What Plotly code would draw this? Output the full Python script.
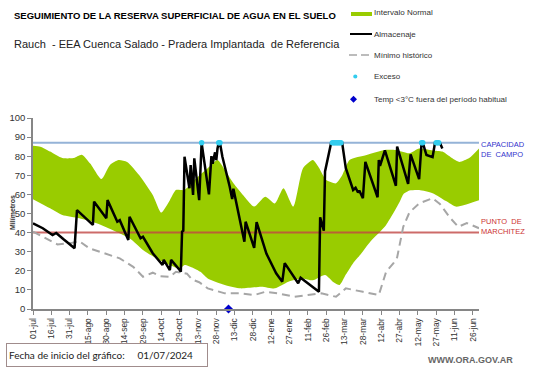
import plotly.graph_objects as go
import pandas as pd

START = "2024-07-01"
END_DAY = 365
CAPACIDAD = 87
PUNTO_MARCHITEZ = 40

# Intervalo normal (upper / lower bounds), days since START
upper_day = [0, 6, 14, 24, 33, 40, 47, 56, 63, 70, 77, 87, 98, 105, 112, 117, 124, 132, 143, 151, 157,
             165, 173, 181, 190, 198, 205, 213, 221, 229, 234, 240, 248, 253, 259, 273, 288, 297, 308,
             316, 327, 335, 344, 349, 357, 365]
upper_val = [85.5, 85, 82.4, 79, 79, 80.8, 76, 68, 75.4, 78, 77, 70, 59.7, 50.5, 57, 62.3, 62.3, 67.5,
             73.7, 78, 72.8, 65, 58.8, 53.6, 58.8, 55.3, 63.2, 53.6, 73.7, 78, 74, 67.5, 65.8, 70, 78,
             80.6, 83.2, 83.2, 81.5, 84, 83, 82.4, 78.5, 77, 79, 84]
lower_day = [0, 14, 24, 38, 52, 65, 79, 90, 101, 112, 120, 124, 131, 137, 143, 157, 170, 187, 198, 209,
             220, 229, 239, 246, 251, 256, 262, 268, 276, 289, 300, 303, 308, 316, 327, 338, 346, 353, 365]
lower_val = [57.5, 52.7, 49.2, 47.5, 44.9, 41.4, 37, 30.9, 26.5, 23, 21, 23, 21.5, 19.5, 16, 12.6, 10.8,
             11.7, 10.8, 14.3, 16, 15, 17.8, 14, 12.6, 18, 24, 28.5, 35.2, 44, 56, 60, 62, 62.3, 60.6,
             56.5, 53.6, 54.5, 57]

# Minimo historico
min_day = [0, 8, 20, 31, 38, 46, 55, 60, 71, 82, 90, 98, 104, 112, 117, 126, 130, 136, 143, 157, 170,
           181, 190, 200, 214, 225, 236, 248, 256, 270, 283, 289, 295, 298, 303, 308, 316, 327, 333,
           341, 348, 355, 365]
min_val = [40.5, 37.9, 33.8, 34.5, 35.5, 31.8, 30, 29, 26.5, 22.1, 16.9, 19, 17.2, 16.9, 19.5, 18.5,
           15.5, 14, 10.8, 8.2, 8.2, 7.3, 9, 8.2, 6.4, 7.3, 8.2, 6.4, 10.8, 9, 7.3, 19.5, 24, 27, 43,
           50.5, 55.3, 58, 55, 48, 43, 45, 42.3]

# Almacenaje
alm_day = [0, 8, 16, 19, 25, 34, 36, 49, 50, 60, 61, 69, 71, 78, 79, 88, 90, 98, 106, 107, 112, 113,
           120, 121, 122, 123, 124, 128, 129, 131, 132, 136, 138, 144, 146, 147, 149, 150, 151, 152,
           153, 155, 161, 163, 164, 172, 173, 174, 181, 183, 191, 199, 204, 206, 217, 219, 233, 234,
           235, 238, 239, 240, 242, 244, 253, 256, 262, 264, 266, 267, 270, 272, 282, 283, 284, 288,
           297, 298, 307, 309, 316, 318, 319, 322, 327, 329, 333, 335]
alm_val = [44.9, 42.3, 38.7, 39.8, 36.5, 31.8, 51.8, 44, 56.2, 47.5, 57, 45.7, 46.5, 36.1, 48.3, 37,
           37.8, 29.2, 23, 25.7, 20.4, 25.7, 20.4, 19.5, 40.5, 41, 79.7, 63.2, 75.4, 59.7, 78.9, 57,
           87, 60, 80, 76, 82, 78, 84, 87, 87, 79.7, 64, 57.6, 63, 39.6, 35.2, 45.7, 32, 45.5, 29,
           18.7, 14.3, 24, 13.5, 16.4, 9.2, 9, 48, 41, 72, 75, 80, 87, 87, 73.7, 62.3, 63.5, 61, 62,
           58, 77, 58.5, 78, 75, 83, 64.5, 85, 65.5, 81, 68, 87, 87, 80.6, 79.5, 87, 87, 84]

# Exceso
exc_day = [138, 152, 153, 245, 246, 247, 248, 249, 250, 251, 252, 318, 319, 330, 331, 332]
exc_val = [87, 87, 87, 87, 87, 87, 87, 87, 87, 87, 87, 87, 87, 87, 87, 87]

# Temp < 3 C fuera del periodo habitual
temp_day = [160]
temp_val = [0]

tick_day = [0, 15, 30, 45, 60, 75, 90, 105, 120, 135, 150, 165, 180, 195, 210, 225, 240, 255, 270,
            285, 300, 315, 330, 345, 360]
tick_text = ["01-jul", "16-jul", "31-jul", "15-ago", "30-ago", "14-sep", "29-sep", "14-oct", "29-oct",
             "13-nov", "28-nov", "13-dic", "28-dic", "12-ene", "27-ene", "11-feb", "26-feb", "13-mar",
             "28-mar", "12-abr", "27-abr", "12-may", "27-may", "11-jun", "26-jun"]

legend_names = ["Intervalo Normal", "Almacenaje", "Mínimo histórico", "Exceso",
                "Temp <3°C fuera del período habitual"]

C_BAND = "#99CC00"
C_ALM = "black"
C_MIN = "#A6A6A6"
C_EXC = "#33CCEE"
C_TEMP = "#0000CC"


def to_date(days):
    return [pd.Timestamp(START) + pd.Timedelta(days=d) for d in days]


W, H = 541, 368
ML, MR, MT, MB = 33, 62, 118, 59
PW, PH = W - ML - MR, H - MT - MB


def px(x):
    return (x - ML) / PW


def py(y):
    return (H - MB - y) / PH


FONT = "Liberation Sans, Arial, sans-serif"

fig = go.Figure()
fig.add_trace(go.Scatter(x=to_date(lower_day), y=lower_val, mode="lines",
                         line=dict(width=0, shape="spline", smoothing=0.6), hoverinfo="skip"))
fig.add_trace(go.Scatter(x=to_date(upper_day), y=upper_val, mode="lines", fill="tonexty",
                         fillcolor=C_BAND, line=dict(width=0, color=C_BAND, shape="spline", smoothing=0.6),
                         name=legend_names[0]))
fig.add_trace(go.Scatter(x=to_date([0, END_DAY]), y=[CAPACIDAD, CAPACIDAD], mode="lines",
                         line=dict(color="#95B3D7", width=2), hoverinfo="skip"))
fig.add_trace(go.Scatter(x=to_date([0, END_DAY]), y=[PUNTO_MARCHITEZ, PUNTO_MARCHITEZ], mode="lines",
                         line=dict(color="rgba(192,70,68,0.8)", width=2), hoverinfo="skip"))
fig.add_trace(go.Scatter(x=to_date(min_day), y=min_val, mode="lines",
                         line=dict(color=C_MIN, width=2, dash="8px,5px"), name=legend_names[2]))
fig.add_trace(go.Scatter(x=to_date(alm_day), y=alm_val, mode="lines",
                         line=dict(color=C_ALM, width=2.5), name=legend_names[1]))
fig.add_trace(go.Scatter(x=to_date(exc_day), y=exc_val, mode="markers",
                         marker=dict(color=C_EXC, size=5.5), name=legend_names[3]))
fig.add_trace(go.Scatter(x=to_date(temp_day), y=temp_val, mode="markers", cliponaxis=False,
                         marker=dict(color=C_TEMP, size=7, symbol="diamond"), name=legend_names[4]))

annotations = [
    dict(text="<b>SEGUIMIENTO DE LA RESERVA SUPERFICIAL DE AGUA EN EL SUELO</b>",
         x=px(12), y=py(15), xanchor="left", yanchor="middle", font=dict(size=9.5, color="black")),
    dict(text="Rauch  - EEA Cuenca Salado - Pradera Implantada  de Referencia",
         x=px(12), y=py(44), xanchor="left", yanchor="middle", font=dict(size=11, color="#222")),
    dict(text="<b>Milímetros</b>", x=px(12), y=py(213), textangle=-90,
         xanchor="center", yanchor="middle", font=dict(size=7, color="#333")),
    dict(text="Fecha de inicio del gráfico:     01/07/2024", x=px(6), y=py(367),
         xanchor="left", yanchor="bottom", align="left", width=196, height=18,
         bordercolor="#A08C8C", borderwidth=1, borderpad=2,
         font=dict(size=10, color="#222", family="Lato, Liberation Sans, sans-serif")),
    dict(text="<b>WWW.ORA.GOV.AR</b>", x=px(426), y=py(360), xanchor="left", yanchor="middle",
         font=dict(size=9, color="#666")),
]

# manual legend (texts)
legend_text_y = [13, 34, 55, 76.5, 99]
for name, ly in zip(legend_names, legend_text_y):
    annotations.append(dict(text=name, x=px(373), y=py(ly), xanchor="left", yanchor="middle",
                            borderpad=0, font=dict(size=8, color="#333")))

for a in annotations:
    a.update(xref="paper", yref="paper", showarrow=False)

annotations += [
    dict(text="CAPACIDAD<br>DE  CAMPO", xref="paper", x=1, xanchor="left", xshift=0,
         yref="y", y=CAPACIDAD, yanchor="top", yshift=5, align="left", showarrow=False,
         font=dict(size=7.5, color="#3333CC")),
    dict(text="PUNTO  DE<br>MARCHITEZ", xref="paper", x=1, xanchor="left", xshift=0,
         yref="y", y=PUNTO_MARCHITEZ, yanchor="bottom", yshift=-5, align="left", showarrow=False,
         font=dict(size=7.5, color="#CC3333")),
]

# manual legend (symbols)
shapes = [
    dict(type="rect", x0=px(351), x1=px(372), y0=py(16), y1=py(12), fillcolor=C_BAND, line=dict(width=0)),
    dict(type="line", x0=px(350), x1=px(372), y0=py(34), y1=py(34), line=dict(color=C_ALM, width=2)),
    dict(type="line", x0=px(349), x1=px(369), y0=py(55), y1=py(55),
         line=dict(color=C_MIN, width=1.5, dash="8px,4px")),
    dict(type="circle", x0=px(353.2), x1=px(357.4), y0=py(78.6), y1=py(74.4),
         fillcolor=C_EXC, line=dict(width=0)),
    dict(type="path",
         path=f"M {px(353.5)} {py(95.8)} L {px(357)} {py(99.3)} L {px(353.5)} {py(102.8)} L {px(350)} {py(99.3)} Z",
         fillcolor=C_TEMP, line=dict(width=0)),
]
for s in shapes:
    s.update(xref="paper", yref="paper")

fig.update_layout(
    width=W, height=H, autosize=False,
    margin=dict(l=ML, r=MR, t=MT, b=MB, pad=0),
    paper_bgcolor="white", plot_bgcolor="white",
    font=dict(family=FONT, color="#333"),
    showlegend=False,
    annotations=annotations,
    shapes=shapes,
    xaxis=dict(type="date", range=to_date([0, END_DAY]), tickvals=to_date(tick_day), ticktext=tick_text,
               tickangle=-90, tickfont=dict(size=8.5, color="#333"), showline=True,
               linecolor="#868686", linewidth=1.5, ticks="outside", ticklen=4, tickcolor="#868686",
               showgrid=False, zeroline=False, fixedrange=True, automargin=False),
    yaxis=dict(range=[0, 100], dtick=10, tickfont=dict(size=9.5, color="#333"), showline=True,
               linecolor="#868686", linewidth=1.5, ticks="outside", ticklen=4, tickcolor="#868686",
               showgrid=False, zeroline=False, fixedrange=True, automargin=False),
)

fig.write_html("out.html", config={"displayModeBar": False},
               post_script="document.body.style.margin='0';")
